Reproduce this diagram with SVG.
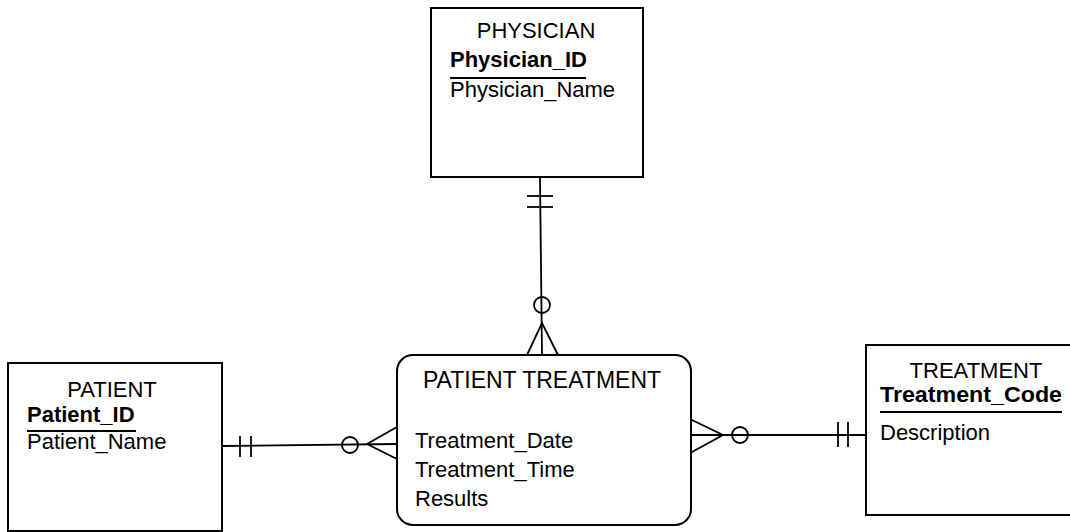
<svg xmlns="http://www.w3.org/2000/svg" width="1070" height="532" viewBox="0 0 1070 532">
<style>
.box{fill:#fff;stroke:#000;stroke-width:2}
.ln{fill:none;stroke:#000;stroke-width:1.8}
.t{font-family:"Liberation Sans",Arial,sans-serif;font-size:22px;fill:#000}
.b{font-weight:bold}
.c{text-anchor:middle}
</style>
<rect width="1070" height="532" fill="#fff"/>
<g id="connectors">
  <!-- Physician to Patient Treatment -->
  <line class="ln" x1="540" y1="177" x2="542" y2="355"/>
  <line class="ln" x1="527" y1="196" x2="553" y2="196"/>
  <line class="ln" x1="527" y1="207" x2="553" y2="207"/>
  <circle class="ln" cx="542" cy="305" r="8" fill="#fff"/>
  <polyline class="ln" points="527,355 542,323 558,355"/>
  <!-- Patient to Patient Treatment -->
  <line class="ln" x1="222" y1="446" x2="397" y2="444"/>
  <line class="ln" x1="240" y1="436" x2="240" y2="457"/>
  <line class="ln" x1="251" y1="436" x2="251" y2="457"/>
  <circle class="ln" cx="350" cy="445" r="8" fill="#fff"/>
  <polyline class="ln" points="397,427 367,444 397,459"/>
  <!-- Treatment to Patient Treatment -->
  <line class="ln" x1="692" y1="435" x2="866" y2="435"/>
  <polyline class="ln" points="692,420 723,435 692,452"/>
  <circle class="ln" cx="740" cy="435" r="8" fill="#fff"/>
  <line class="ln" x1="838" y1="422" x2="838" y2="447"/>
  <line class="ln" x1="848" y1="422" x2="848" y2="447"/>
</g>
<g id="physician">
  <rect class="box" x="431" y="8" width="212" height="169"/>
  <text class="t c" x="536" y="38">PHYSICIAN</text>
  <text class="t b" x="450" y="67">Physician_ID</text>
  <line class="ln" x1="450" y1="78" x2="586" y2="78"/>
  <text class="t" x="450" y="97">Physician_Name</text>
</g>
<g id="patient">
  <rect class="box" x="8" y="363" width="214" height="168"/>
  <text class="t c" x="112" y="397">PATIENT</text>
  <text class="t b" x="27" y="422">Patient_ID</text>
  <line class="ln" x1="27" y1="431" x2="136" y2="431"/>
  <text class="t" x="27" y="449">Patient_Name</text>
</g>
<g id="patient_treatment">
  <rect class="box" x="397" y="355" width="294" height="170" rx="16" ry="16"/>
  <text class="t c" x="542" y="388" style="font-size:23px">PATIENT TREATMENT</text>
  <text class="t" x="415" y="448">Treatment_Date</text>
  <text class="t" x="415" y="477">Treatment_Time</text>
  <text class="t" x="415" y="506">Results</text>
</g>
<g id="treatment">
  <rect class="box" x="866" y="345" width="220" height="170"/>
  <text class="t c" x="976" y="378">TREATMENT</text>
  <text class="t b" x="880" y="402" textLength="182" lengthAdjust="spacingAndGlyphs">Treatment_Code</text>
  <line class="ln" x1="880" y1="412" x2="1062" y2="412"/>
  <text class="t" x="880" y="440">Description</text>
</g>
</svg>
